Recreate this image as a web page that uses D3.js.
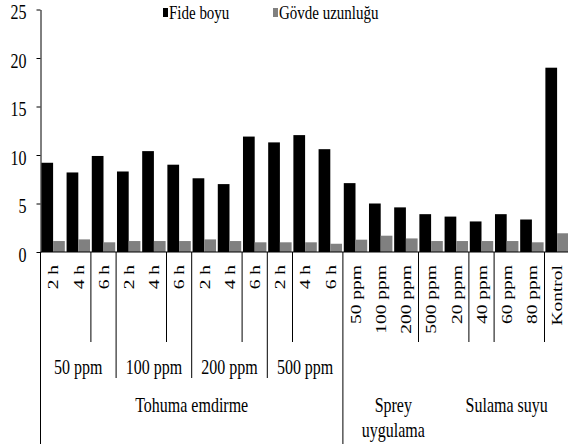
<!DOCTYPE html>
<html>
<head>
<meta charset="utf-8">
<script src="https://cdn.jsdelivr.net/npm/d3@7"></script>
<style>
  body { margin: 0; background: #fff; }
  svg { display: block; }
  text { font-family: "Liberation Serif", "Times New Roman", serif; fill: #000; }
</style>
</head>
<body>
<svg id="chart" width="568" height="444"></svg>
<script>
const categories = ["2 h", "4 h", "6 h", "2 h", "4 h", "6 h", "2 h", "4 h", "6 h", "2 h", "4 h", "6 h",
  "50 ppm", "100 ppm", "200 ppm", "500 ppm", "20 ppm", "40 ppm", "60 ppm", "80 ppm", "Kontrol"];
const fideBoyu = [9.2, 8.2, 9.9, 8.3, 10.4, 9.0, 7.6, 7.0, 11.9, 11.3, 12.05, 10.6,
  7.1, 5.0, 4.6, 3.9, 3.65, 3.15, 3.9, 3.35, 19.0];
const govdeUzunlugu = [1.13, 1.3, 1.0, 1.13, 1.13, 1.13, 1.3, 1.13, 1.0, 1.0, 1.0, 0.85,
  1.27, 1.68, 1.4, 1.13, 1.13, 1.13, 1.13, 1.0, 1.93];
const seriesNames = ["Fide boyu", "Gövde uzunluğu"];
const yTicks = [0, 5, 10, 15, 20, 25];

// second level (dose) and third level (method) of the category axis
const doseGroups = [
  { label: "50 ppm", from: 0, to: 3 },
  { label: "100 ppm", from: 3, to: 6 },
  { label: "200 ppm", from: 6, to: 9 },
  { label: "500 ppm", from: 9, to: 12 }
];
const methodGroups = [
  { label: ["Tohuma emdirme"], from: 0, to: 12 },
  { label: ["Sprey", "uygulama"], from: 12, to: 16 },
  { label: ["Sulama suyu"], from: 16, to: 21 }
];
// divider lines seen under the axis (category boundary index)
const shortDividers = [2, 5, 8, 10, 15, 17, 18, 20];
const doseDividers = [3, 6, 9];
const fullDividers = [0, 12];

const svg = d3.select("#chart");
const stretch = 1.3; // the scan is taller than wide

const x0 = 40.5, x1 = 569.7;
const x = d3.scaleBand()
  .domain(d3.range(categories.length))
  .range([x0, x1])
  .paddingInner(0.07)
  .paddingOuter(0.035);
const xSub = d3.scaleBand()
  .domain([0, 1])
  .range([0, x.bandwidth()]);
const y = d3.scaleLinear().domain([0, 25]).range([252, 9.5]);
const color = ["#000000", "#808080"];
const edge = i => x0 + i * x.step();

// bars
const rows = categories.map((c, i) => ({ i, vals: [fideBoyu[i], govdeUzunlugu[i]] }));
const grp = svg.selectAll(".cat")
  .data(rows)
  .enter().append("g")
  .attr("class", "cat")
  .attr("transform", d => `translate(${x(d.i)},0)`);
grp.selectAll("rect")
  .data(d => d.vals)
  .enter().append("rect")
  .attr("x", (v, k) => xSub(k))
  .attr("width", xSub.bandwidth())
  .attr("y", v => y(v))
  .attr("height", v => y(0) - y(v))
  .attr("fill", (v, k) => color[k]);

// y axis
const yAxis = svg.append("g")
  .attr("transform", `translate(${x0},0)`)
  .call(d3.axisLeft(y).tickValues(yTicks).tickSize(4).tickPadding(10).tickSizeOuter(0));
yAxis.select(".domain").attr("stroke", "#000");
yAxis.selectAll(".tick line").attr("stroke", "#000");
yAxis.selectAll(".tick text")
  .attr("font-size", 16)
  .attr("font-family", "Liberation Serif, serif")
  .attr("dy", "0.45em")
  .attr("transform", `scale(1,${stretch})`);

// x baseline
svg.append("line")
  .attr("x1", x0).attr("x2", x1)
  .attr("y1", y(0)).attr("y2", y(0))
  .attr("stroke", "#000");

// dividers below axis
const divider = (list, bottom) => svg.append("g").selectAll("line")
  .data(list).enter().append("line")
  .attr("x1", edge).attr("x2", edge)
  .attr("y1", y(0)).attr("y2", bottom)
  .attr("stroke", "#000")
  .attr("stroke-width", 1);
divider(shortDividers, 342);
divider(doseDividers, 378);
divider(fullDividers, 444);

// rotated category labels
svg.append("g").selectAll("text")
  .data(categories)
  .enter().append("text")
  .attr("transform", (d, i) => `translate(${x(i) + x.bandwidth() / 2},265) rotate(-90) scale(${stretch},1)`)
  .attr("text-anchor", "end")
  .attr("dy", "0.35em")
  .attr("font-size", 15)
  .text(d => d);

// horizontal, vertically stretched text
function hText(tx, ty, str, size, anchor) {
  svg.append("text")
    .attr("transform", `translate(${tx},${ty}) scale(1,${stretch})`)
    .attr("text-anchor", anchor || "middle")
    .attr("dy", "0.35em")
    .attr("font-size", size)
    .text(str);
}

doseGroups.forEach(g => hText((edge(g.from) + edge(g.to)) / 2, 367, g.label, 16));
methodGroups.forEach(g => g.label.forEach((s, k) =>
  hText((edge(g.from) + edge(g.to)) / 2, 405 + k * 25, s, 16)));

// legend
const legendX = [163, 273];
seriesNames.forEach((s, k) => {
  svg.append("rect")
    .attr("x", legendX[k]).attr("y", 8)
    .attr("width", 5).attr("height", 9)
    .attr("fill", color[k]);
  hText(legendX[k] + 6, 12, s, 15, "start");
});
</script>
</body>
</html>
